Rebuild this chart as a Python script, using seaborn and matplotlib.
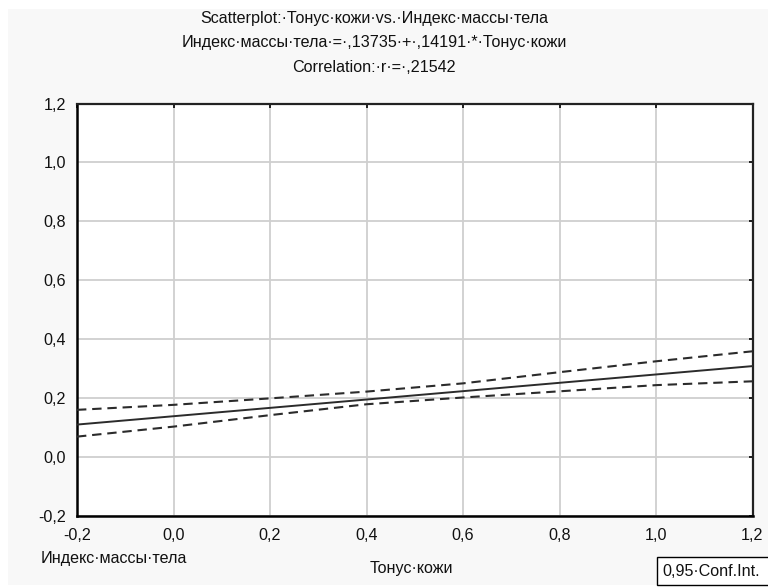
import matplotlib
matplotlib.use("Agg")
import matplotlib.pyplot as plt
from matplotlib.patches import Rectangle
import numpy as np
import pandas as pd
import seaborn as sns

# Regression coefficients and correlation
intercept = 0.13735
slope = 0.14191
r_value = 0.21542

# Grid of predictor values and 95% confidence limits of the fitted line
x_vals = [-0.2, 0.0, 0.2, 0.4, 0.6, 0.8, 1.0, 1.2]
ci_upper = [0.159, 0.176, 0.198, 0.221, 0.249, 0.287, 0.324, 0.358]
ci_lower = [0.068, 0.102, 0.141, 0.178, 0.201, 0.222, 0.243, 0.256]

tick_vals = [-0.2, 0.0, 0.2, 0.4, 0.6, 0.8, 1.0, 1.2]
tick_labels = ["-0,2", "0,0", "0,2", "0,4", "0,6", "0,8", "1,0", "1,2"]

title_lines = [
    "Scatterplot:·Тонус·кожи·vs.·Индекс·массы·тела",
    "Индекс·массы·тела·=·,13735·+·,14191·*·Тонус·кожи",
    "Correlation:·r·=·,21542",
]
x_label = "Тонус·кожи"
y_label = "Индекс·массы·тела"
legend_label = "0,95·Conf.Int."

sns.set_theme(style="white")
plt.rcParams["font.family"] = ["Liberation Sans", "DejaVu Sans"]
FS = 11.6

W, H = 768, 587
fig = plt.figure(figsize=(W / 100, H / 100), dpi=100, facecolor="white")

# light panel behind the chart
fig.patches.append(Rectangle((8 / W, 1 - 585 / H), 1, (585 - 9) / H,
                             transform=fig.transFigure, facecolor="#f8f8f8",
                             edgecolor="none", zorder=-10))

left, right, top, bottom = 77, 752.5, 103.5, 515.5
ax = fig.add_axes([left / W, 1 - bottom / H, (right - left) / W, (bottom - top) / H])
ax.set_zorder(1)
ax.set_facecolor("white")

df = pd.DataFrame({"x": x_vals, "upper": ci_upper, "lower": ci_lower})
df["fit"] = intercept + slope * df["x"]

sns.lineplot(data=df, x="x", y="fit", ax=ax, color="#2b2b2b", linewidth=1.4, zorder=3)
for col in ["upper", "lower"]:
    sns.lineplot(data=df, x="x", y=col, ax=ax, color="#2b2b2b", linewidth=1.5,
                 linestyle=(0, (4.5, 2.8)), zorder=3)

ax.set_xlim(-0.2, 1.2)
ax.set_ylim(-0.2, 1.2)
ax.set_xticks(tick_vals)
ax.set_xticklabels(tick_labels)
ax.set_yticks(tick_vals)
ax.set_yticklabels(tick_labels)
ax.grid(True, color="#cfcfcf", linewidth=1.3)
ax.set_axisbelow(True)
ax.tick_params(axis="both", direction="in", length=3, width=1.2, color="black",
               labelsize=FS, labelcolor="#111111", top=True, right=True,
               labeltop=False, labelright=False)
ax.tick_params(axis="x", pad=9)
ax.tick_params(axis="y", pad=8)
for side in ["left", "bottom"]:
    ax.spines[side].set_linewidth(1.8)
    ax.spines[side].set_color("black")
for side in ["top", "right"]:
    ax.spines[side].set_linewidth(1.6)
    ax.spines[side].set_color("#222222")
ax.set_xlabel("")
ax.set_ylabel("")

# three-line title
for i, line in enumerate(title_lines):
    fig.text(374 / W, 1 - (18 + 24.5 * i) / H, line, ha="center", va="center",
             fontsize=FS, color="#111111")

fig.text(411 / W, 1 - 568 / H, x_label, ha="center", va="center", fontsize=FS, color="#111111")
fig.text(41 / W, 1 - 558 / H, y_label, ha="left", va="center", fontsize=FS, color="#111111")

# legend box for the confidence band
fig.patches.append(Rectangle((657 / W, 1 - 585 / H), 130 / W, 28 / H,
                             transform=fig.transFigure, facecolor="white",
                             edgecolor="black", linewidth=1.0, zorder=5))
fig.text(662 / W, 1 - 571 / H, legend_label, ha="left", va="center",
         fontsize=FS, color="#111111", zorder=6)

fig.savefig("out.png", dpi=100, facecolor=fig.get_facecolor())
